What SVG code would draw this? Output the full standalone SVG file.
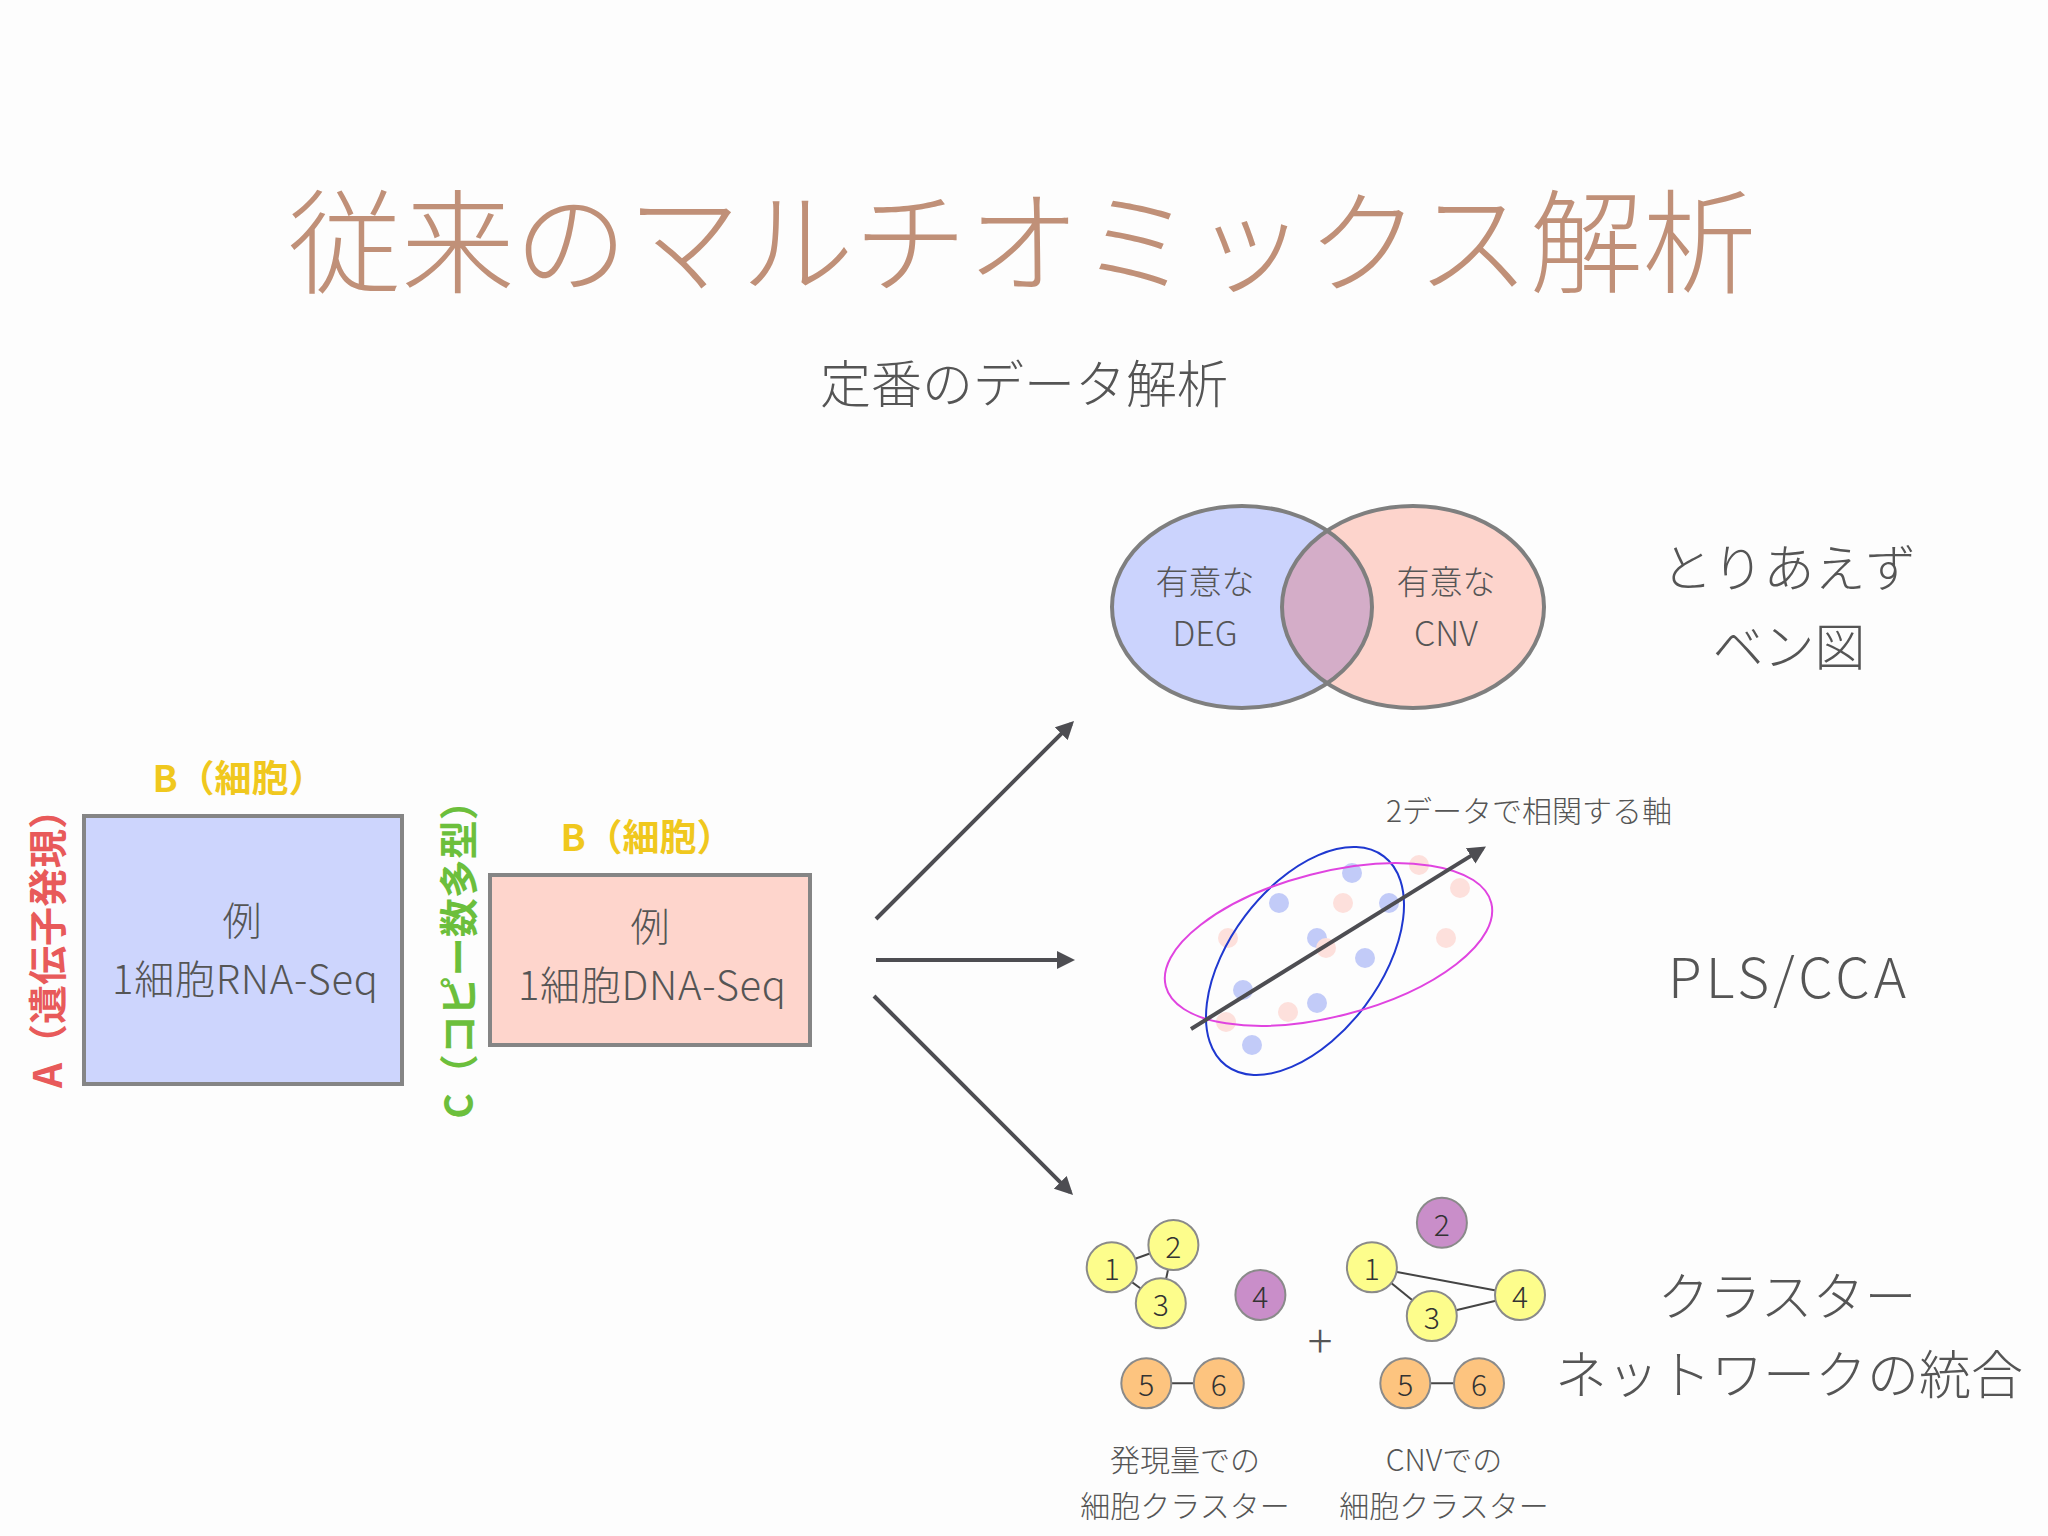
<svg xmlns="http://www.w3.org/2000/svg" width="2048" height="1536" viewBox="0 0 2048 1536">
<defs>
<style>
text{font-family:"Noto Sans CJK JP","Noto Sans",sans-serif;}
.t{fill:#555;font-weight:300;}
.c{text-anchor:middle;dominant-baseline:central;}
.b{font-weight:700;}
.rect{stroke:#858585;stroke-width:4;}
.arr{stroke:#4d4d52;stroke-width:4;fill:none;marker-end:url(#ah);}
.ven{fill:none;stroke:#7f7f7f;stroke-width:4;}
.dB{fill:#c2cbf8;}
.dP{fill:#fde0dc;}
.edge{stroke:#444;stroke-width:2;}
.nd{stroke:#8a8a8a;stroke-width:2;}
.y{fill:#fdfd8c;}
.p{fill:#c98ec9;}
.o{fill:#fdc47f;}
.num{fill:#333;font-size:30px;font-weight:300;}
</style>
<marker id="ah" viewBox="0 0 18 18" refX="14" refY="9" markerWidth="18" markerHeight="18" markerUnits="userSpaceOnUse" orient="auto">
<path d="M0,0 L18,9 L0,18 z" fill="#4d4d52"/>
</marker>
<clipPath id="leftV"><ellipse cx="1242" cy="607" rx="130" ry="101"/></clipPath>
</defs>
<rect width="2048" height="1536" fill="#fdfdfd"/>

<g id="title">
<text x="1022" y="235" class="c" font-size="113" fill="#c09078" font-weight="300" textLength="1468" lengthAdjust="spacingAndGlyphs">従来のマルチオミックス解析</text>
</g>
<g id="subtitle">
<text x="1024" y="381" class="c t" font-size="51">定番のデータ解析</text>
</g>

<g id="rna-matrix">
<rect x="84" y="816" width="318" height="268" fill="#cdd5fd" class="rect"/>
<text x="242" y="918" class="c t" font-size="39">例</text>
<text x="245" y="977" class="c t" font-size="40" textLength="266" lengthAdjust="spacing">1細胞RNA-Seq</text>
<text x="239" y="776" class="c b" font-size="37" fill="#f0c81e">B（細胞）</text>
<text transform="translate(45,939) rotate(-90)" class="c b" font-size="39" fill="#e85a5a">A（遺伝子発現）</text>
</g>

<g id="dna-matrix">
<rect x="490" y="875" width="320" height="170" fill="#fed5cc" class="rect"/>
<text x="650" y="924" class="c t" font-size="39">例</text>
<text x="652" y="983" class="c t" font-size="40" textLength="268" lengthAdjust="spacing">1細胞DNA-Seq</text>
<text x="647" y="835" class="c b" font-size="37" fill="#f0c81e">B（細胞）</text>
<text transform="translate(456,950) rotate(-90)" class="c b" font-size="39" fill="#6cbf3c">C（コピー数多型）</text>
</g>

<g id="connectors">
<line x1="876" y1="919" x2="1071.2" y2="723.8" class="arr"/>
<line x1="876" y1="960" x2="1071" y2="960" class="arr"/>
<line x1="874" y1="996" x2="1070.2" y2="1192.2" class="arr"/>
</g>

<g id="venn">
<ellipse cx="1242" cy="607" rx="130" ry="101" fill="#cbd3fd"/>
<ellipse cx="1413" cy="607" rx="131" ry="101" fill="#fdd4cc"/>
<ellipse cx="1413" cy="607" rx="131" ry="101" fill="#d4adc8" clip-path="url(#leftV)"/>
<ellipse cx="1242" cy="607" rx="130" ry="101" class="ven"/>
<ellipse cx="1413" cy="607" rx="131" ry="101" class="ven"/>
<text x="1205" y="580" class="c t" font-size="33">有意な</text>
<text x="1205" y="631" class="c t" font-size="34">DEG</text>
<text x="1446" y="580" class="c t" font-size="33">有意な</text>
<text x="1446" y="631" class="c t" font-size="34">CNV</text>
</g>
<g id="venn-label">
<text x="1789" y="565" class="c t" font-size="51">とりあえず</text>
<text x="1789" y="644" class="c t" font-size="51">ベン図</text>
</g>

<g id="pls">
<g>
<circle cx="1352" cy="873" r="10" class="dB"/>
<circle cx="1279" cy="903" r="10" class="dB"/>
<circle cx="1389" cy="903" r="10" class="dB"/>
<circle cx="1317" cy="938" r="10" class="dB"/>
<circle cx="1365" cy="958" r="10" class="dB"/>
<circle cx="1243" cy="990" r="10" class="dB"/>
<circle cx="1317" cy="1003" r="10" class="dB"/>
<circle cx="1252" cy="1045" r="10" class="dB"/>
<circle cx="1419" cy="865" r="10" class="dP"/>
<circle cx="1460" cy="888" r="10" class="dP"/>
<circle cx="1343" cy="903" r="10" class="dP"/>
<circle cx="1228" cy="938" r="10" class="dP"/>
<circle cx="1326" cy="948" r="10" class="dP"/>
<circle cx="1446" cy="938" r="10" class="dP"/>
<circle cx="1288" cy="1012" r="10" class="dP"/>
<circle cx="1226" cy="1022" r="10" class="dP"/>
</g>
<ellipse cx="1305" cy="961" rx="131" ry="75" transform="rotate(-53 1305 961)" fill="none" stroke="#1f38d0" stroke-width="2"/>
<ellipse cx="1328.5" cy="944.5" rx="168" ry="72" transform="rotate(-14.4 1328.5 944.5)" fill="none" stroke="#e044e0" stroke-width="2"/>
<line x1="1191" y1="1029" x2="1482.6" y2="848.6" class="arr"/>
<text x="1529" y="809" class="c t" font-size="30">2データで相関する軸</text>
</g>
<g id="pls-label">
<text x="1787" y="974" class="c t" font-size="55" textLength="238" lengthAdjust="spacing">PLS/CCA</text>
</g>

<g id="network-expr">
<line x1="1111.7" y1="1267.3" x2="1173.4" y2="1245" class="edge"/>
<line x1="1111.7" y1="1267.3" x2="1160.8" y2="1303.3" class="edge"/>
<line x1="1173.4" y1="1245" x2="1160.8" y2="1303.3" class="edge"/>
<line x1="1146.3" y1="1383.3" x2="1218.8" y2="1383.3" class="edge"/>
<circle cx="1111.7" cy="1267.3" r="25" class="nd y"/><text x="1111.7" y="1267" class="c num">1</text>
<circle cx="1173.4" cy="1245" r="25" class="nd y"/><text x="1173.4" y="1244.5" class="c num">2</text>
<circle cx="1160.8" cy="1303.3" r="25" class="nd y"/><text x="1160.8" y="1303" class="c num">3</text>
<circle cx="1260.4" cy="1295" r="25" class="nd p"/><text x="1260.4" y="1294.5" class="c num">4</text>
<circle cx="1146.3" cy="1383.3" r="25" class="nd o"/><text x="1146.3" y="1383" class="c num">5</text>
<circle cx="1218.8" cy="1383.3" r="25" class="nd o"/><text x="1218.8" y="1383" class="c num">6</text>
<text x="1185" y="1458" class="c t" font-size="30">発現量での</text>
<text x="1185" y="1504" class="c t" font-size="30">細胞クラスター</text>
</g>

<g id="plus">
<text x="1320" y="1338" class="c t" font-size="46">+</text>
</g>

<g id="network-cnv">
<line x1="1371.9" y1="1267.3" x2="1520" y2="1295" class="edge"/>
<line x1="1371.9" y1="1267.3" x2="1431.8" y2="1316" class="edge"/>
<line x1="1431.8" y1="1316" x2="1520" y2="1295" class="edge"/>
<line x1="1405.3" y1="1383.3" x2="1479" y2="1383.3" class="edge"/>
<circle cx="1441.9" cy="1222.7" r="25" class="nd p"/><text x="1441.9" y="1222.5" class="c num">2</text>
<circle cx="1371.9" cy="1267.3" r="25" class="nd y"/><text x="1371.9" y="1267" class="c num">1</text>
<circle cx="1520" cy="1295" r="25" class="nd y"/><text x="1520" y="1294.5" class="c num">4</text>
<circle cx="1431.8" cy="1316" r="25" class="nd y"/><text x="1431.8" y="1315.5" class="c num">3</text>
<circle cx="1405.3" cy="1383.3" r="25" class="nd o"/><text x="1405.3" y="1383" class="c num">5</text>
<circle cx="1479" cy="1383.3" r="25" class="nd o"/><text x="1479" y="1383" class="c num">6</text>
<text x="1444" y="1458" class="c t" font-size="30">CNVでの</text>
<text x="1444" y="1504" class="c t" font-size="30">細胞クラスター</text>
</g>

<g id="network-label">
<text x="1787" y="1293" class="c t" font-size="52">クラスター</text>
<text x="1789" y="1371" class="c t" font-size="52">ネットワークの統合</text>
</g>
</svg>
